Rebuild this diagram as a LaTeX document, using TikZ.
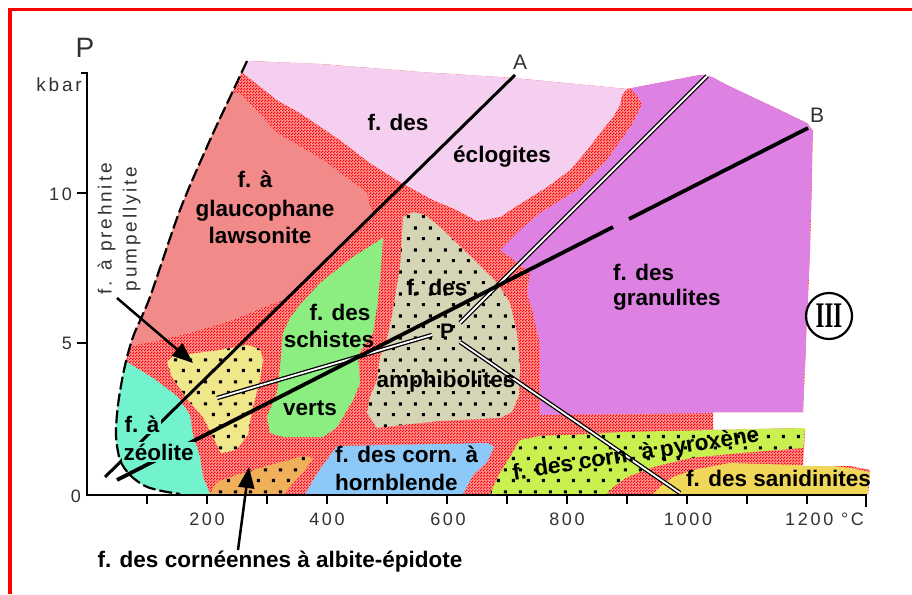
\documentclass[tikz,border=0pt]{standalone}
\usepackage{fontspec}
\setmainfont{Liberation Sans}
\newfontfamily\axfont[LetterSpace=15]{Liberation Sans}
\newfontfamily\romfont{Liberation Serif}
\usetikzlibrary{patterns,patterns.meta,arrows.meta}
\definecolor{cEclo}{RGB}{245,207,239}
\definecolor{cGlau}{RGB}{243,138,138}
\definecolor{cGran}{RGB}{221,130,226}
\definecolor{cVert}{RGB}{140,238,128}
\definecolor{cAmph}{RGB}{213,212,180}
\definecolor{cPreh}{RGB}{240,230,138}
\definecolor{cZeol}{RGB}{114,243,205}
\definecolor{cAlbi}{RGB}{240,176,90}
\definecolor{cHorn}{RGB}{140,200,248}
\definecolor{cPyro}{RGB}{200,240,78}
\definecolor{cSani}{RGB}{240,215,90}
\definecolor{cTrans}{RGB}{255,150,150}
\definecolor{axgray}{RGB}{50,50,50}
\pgfdeclarepattern{name=spdots, type=uncolored,
  bottom left={\pgfpoint{0pt}{0pt}}, top right={\pgfpoint{15pt}{22pt}},
  tile size={\pgfpoint{15pt}{22pt}},
  code={\pgfpathrectangle{\pgfpoint{2pt}{2pt}}{\pgfpoint{3.2pt}{3.2pt}}%
        \pgfpathrectangle{\pgfpoint{9.5pt}{13pt}}{\pgfpoint{3.2pt}{3.2pt}}%
        \pgfusepath{fill}}}
\pgfdeclarepattern{name=finechecker, type=uncolored,
  bottom left={\pgfpoint{0pt}{0pt}}, top right={\pgfpoint{3pt}{3pt}},
  tile size={\pgfpoint{3pt}{3pt}},
  code={\pgfpathrectangle{\pgfpoint{0pt}{0pt}}{\pgfpoint{1.5pt}{1.5pt}}%
        \pgfpathrectangle{\pgfpoint{1.5pt}{1.5pt}}{\pgfpoint{1.5pt}{1.5pt}}%
        \pgfusepath{fill}}}
\def\envpath{(247,61) -- (320,64) -- (420,72) -- (513,78) -- (627,89) -- (700,75) -- (712,77) -- (727,85) -- (807,123) -- (813,131) -- (810,250) -- (803,412) -- (713,412) -- (713,430) -- (805,428) -- (803,466) -- (850,466) -- (870,470) -- (868,494) -- (180,494) -- plot[smooth] coordinates {(180,494) (162,491) (145,486) (130,475) (120,460) (116,435) (118,405) (124,370) (133,337) (150,297) (180,210) (210,140) (232,93) (247,61)} -- cycle}
\def\glpath{(200,92) -- (240,93) -- (277,133) -- (323,160) -- (367,193) -- (370,207) -- (373,213) -- (287,298) -- (257,310) -- (233,320) -- (190,333) -- (157,341) -- (130,346) -- (100,346) -- cycle}
\def\ecpath{(230,50) -- (320,64) -- (420,72) -- (513,78) -- (627,89) -- (622,95) -- (620,105) -- (613,117) -- (600,133) -- (587,150) -- (570,170) -- (547,187) -- (515,207) -- (500,217) -- (477,221) -- (457,210) -- (433,200) -- (400,182) -- (370,163) -- (340,140) -- (300,113) -- (277,100) -- (243,73) -- (220,73) -- cycle}
\def\grpath{(630,88) -- (700,75) -- (712,77) -- (727,85) -- (807,123) -- (813,131) -- (810,250) -- (803,412) -- (540,415) -- (540,345) -- (533,313) -- (527,293) -- (530,273) -- (510,257) -- (500,250) -- (520,230) -- (540,213) -- (577,190) -- (607,160) -- (633,123) -- (642,104) -- (638,97) -- cycle}
\def\gnpath{(383,238) -- (381,267) -- (378,300) -- (373,333) -- (363,347) -- (358,355) -- (360,383) -- (353,400) -- (337,427) -- (323,437) -- (283,437) -- (270,433) -- (267,417) -- (277,393) -- (280,367) -- (283,333) -- (290,318) -- (300,305) -- (320,283) -- (353,257) -- cycle}
\def\ampath{(403,217) -- (413,212) -- (425,215) -- (440,227) -- (467,253) -- (497,283) -- (510,303) -- (517,333) -- (520,367) -- (519,395) -- (512,412) -- (500,418) -- (440,421) -- (410,424) -- (377,428) -- (367,413) -- (370,397) -- (377,380) -- (380,357) -- (387,340) -- (393,310) -- (400,267) -- (402,235) -- cycle}
\def\ylpath{(167,362) -- (173,356) -- (220,350) -- (247,345) -- (260,349) -- (263,360) -- (259,385) -- (252,410) -- (248,435) -- (236,450) -- (221,453) -- (213,437) -- (203,417) -- (188,400) -- (172,377) -- cycle}
\def\orpath{(210,494) -- (217,482) -- (240,474) -- (267,466) -- (303,456) -- (313,458) -- (305,470) -- (293,483) -- (284,494) -- cycle}
\def\blpath{(337,446) -- (488,443) -- (494,447) -- (487,462) -- (473,475) -- (463,494) -- (305,494) -- (318,472) -- cycle}
\def\pxpath{(520,440) -- (540,436) -- (590,434) -- (623,432) -- (713,430) -- (805,428) -- (803,448) -- (740,453) -- (690,458) -- (653,467) -- (640,472) -- (627,477) -- (613,487) -- (607,494) -- (490,494) -- (500,473) -- (510,457) -- cycle}
\def\sapath{(653,494) -- (660,487) -- (673,477) -- (693,470) -- (730,463) -- (833,466) -- (850,468) -- (870,472) -- (868,494) -- cycle}
\def\zepath{(100,362) -- (127,362) -- (153,378) -- (178,397) -- (190,415) -- (193,435) -- (200,457) -- (203,477) -- (210,494) -- (100,494) -- cycle}
\tikzset{
  lab/.style={font=\bfseries\fontsize{22.5}{27}\selectfont, inner sep=0pt, text=black},
  axl/.style={font=\axfont\fontsize{18}{20}\selectfont, text=axgray, inner sep=0pt},
  axisline/.style={line width=2.6pt, black, line cap=butt, line join=miter},
  dashcurve/.style={line width=2.2pt, black, dash pattern=on 13pt off 4pt},
  isoline/.style={line width=3pt, black},
  isolineB/.style={line width=3.8pt, black},
  dbl/.style={line width=1.3pt, black, double=white, double distance=1.8pt},
  pointer/.style={line width=2.5pt, black, -{Triangle[length=21pt,width=16pt]}},
  dotted region/.style={pattern=spdots, pattern color=black}
}
\begin{document}
\begin{tikzpicture}[x=1pt,y=-1pt]
\useasboundingbox (0,0) rectangle (912,594);
\fill[white] (0,0) rectangle (912,594);
\draw[red, line width=3.5pt] (10,594) -- (10,9.5) -- (912,9.5);
% transition zones (fine red checker)
\fill[cTrans] \envpath;
\fill[pattern=finechecker, pattern color=red] \envpath;
\begin{scope}
  \clip \envpath;
  \fill[cEclo] \ecpath;
  \fill[cGlau] \glpath;
  \fill[cGran] \grpath;
  \fill[cVert] \gnpath;
  \fill[cAmph] \ampath;  \fill[dotted region] \ampath;
  \fill[cPreh] \ylpath;  \fill[dotted region] \ylpath;
  \fill[cZeol] \zepath;
  \fill[cAlbi] \orpath;  \fill[dotted region] \orpath;
  \fill[cHorn] \blpath;
  \fill[cPyro] \pxpath;  \fill[dotted region] \pxpath;
  \fill[cSani] \sapath;
\end{scope}
% dashed limit
\draw[dashcurve] plot[smooth] coordinates {(247,61) (232,93) (210,140) (180,210) (150,297) (133,337) (124,370) (118,405) (116,435) (120,460) (130,475) (145,486) (162,491) (180,494)};
% axes
\draw[axisline] (81,73) -- (87,73) -- (87,495) -- (866,495) -- (866,507);
\foreach \t in {1,...,12} {\draw[axisline] (87+60*\t,495) -- ++(0,9);}
\draw[axisline] (77,193) -- (87,193);
\draw[axisline] (77,343) -- (87,343);
\node[axl, font=\axfont\fontsize{28}{30}\selectfont, anchor=base] (lP) at (85,57) {P};
\node[axl, font=\axfont\fontsize{19}{20}\selectfont, anchor=base east] (lkbar) at (82,92) {kbar};
\node[axl, anchor=base east] (l10) at (72,200) {10};
\node[axl, anchor=base east] (l5) at (72,349) {5};
\node[axl, anchor=base east] (l0) at (81,502) {0};
\node[axl, anchor=base] (t200) at (207,525) {200};
\node[axl, anchor=base] (t400) at (327,525) {400};
\node[axl, anchor=base] (t600) at (448,525) {600};
\node[axl, anchor=base] (t800) at (567,525) {800};
\node[axl, anchor=base] (t1000) at (688,525) {1000};
\node[axl, anchor=base west] (t1200) at (785,525) {1200 °C};
% isograd double lines
\coordinate (d1a) at (460,323); \coordinate (d1b) at (707,76);
\coordinate (d2a) at (432,335); \coordinate (d2b) at (217,398);
\coordinate (d3a) at (460,342); \coordinate (d3b) at (680,493);
\draw[dbl] (d1a) -- (d1b);
\draw[dbl] (d2a) -- (d2b);
\draw[dbl] (d3a) -- (d3b);
% gradient lines A and B
\coordinate (Atop) at (515,75); \coordinate (Abot) at (105,477);
\coordinate (Btop) at (808,128); \coordinate (Bgap1) at (629,219);
\coordinate (Bgap2) at (613,227); \coordinate (Bbot) at (117,480);
\draw[isoline] (Atop) -- (Abot);
\draw[isolineB] (Btop) -- (Bgap1);
\draw[isolineB] (Bgap2) -- (Bbot);
\node[font=\axfont\fontsize{21}{22}\selectfont, text=axgray, inner sep=0pt, anchor=base] (lA) at (520,70) {A};
\node[font=\axfont\fontsize{21}{22}\selectfont, text=axgray, inner sep=0pt, anchor=base] (lB) at (817,122) {B};
\node[font=\bfseries\fontsize{21}{22}\selectfont, inner sep=0pt, anchor=base] (lPt) at (447,338) {P};
% facies labels
\node[lab, anchor=base] (ec1) at (398,130) {f. des};
\node[lab, anchor=base] (ec2) at (502,162) {éclogites};
\node[lab, anchor=base] (gl1) at (255,187) {f. à};
\node[lab, anchor=base] (gl2) at (265,216) {glaucophane};
\node[lab, anchor=base] (gl3) at (260,243) {lawsonite};
\node[lab, anchor=base] (sv1) at (340,320) {f. des};
\node[lab, anchor=base] (sv2) at (329,347) {schistes};
\node[lab, anchor=base] (sv3) at (310,415) {verts};
\node[lab, anchor=base] (am1) at (437,295) {f. des};
\node[lab, anchor=base] (am2) at (446,387) {amphibolites};
\node[lab, anchor=base west] (gr1) at (613,280) {f. des};
\node[lab, anchor=base west] (gr2) at (613,305) {granulites};
\node[lab, anchor=base west, fill=cZeol, inner sep=1.5pt] (ze1) at (123,432) {f. à};
\node[lab, anchor=base west, fill=cZeol, inner sep=1.5pt] (ze2) at (122,460) {zéolite};
\node[lab, anchor=base west] (hb1) at (335,462) {f. des corn. à};
\node[lab, anchor=base west] (hb2) at (335,490) {hornblende};
\node[lab, rotate=9] (px) at (636,455) {f. des corn. à pyroxène};
\node[lab, anchor=base west] (sa) at (686,486) {f. des sanidinites};
\node[lab, anchor=base] (ab) at (280,567) {f. des cornéennes à albite-épidote};
\node[font=\axfont\fontsize{19}{25}\selectfont, text=axgray, inner sep=0pt, align=center, rotate=90] (pp) at (119,229) {f. à prehnite\\pumpellyite};
% pointers
\coordinate (pp1) at (117,298); \coordinate (pp2) at (193,363);
\draw[pointer] (pp1) -- (pp2);
\coordinate (ab1) at (238,550); \coordinate (ab2) at (249,467);
\draw[pointer] (ab1) -- (ab2);
% roman numeral
\node[circle, draw, line width=2.2pt, minimum size=46pt, inner sep=0pt, font=\romfont\bfseries\fontsize{24}{24}\selectfont] (c3) at (829,316) {\scalebox{0.95}[1.5]{III}};
\end{tikzpicture}
\end{document}
